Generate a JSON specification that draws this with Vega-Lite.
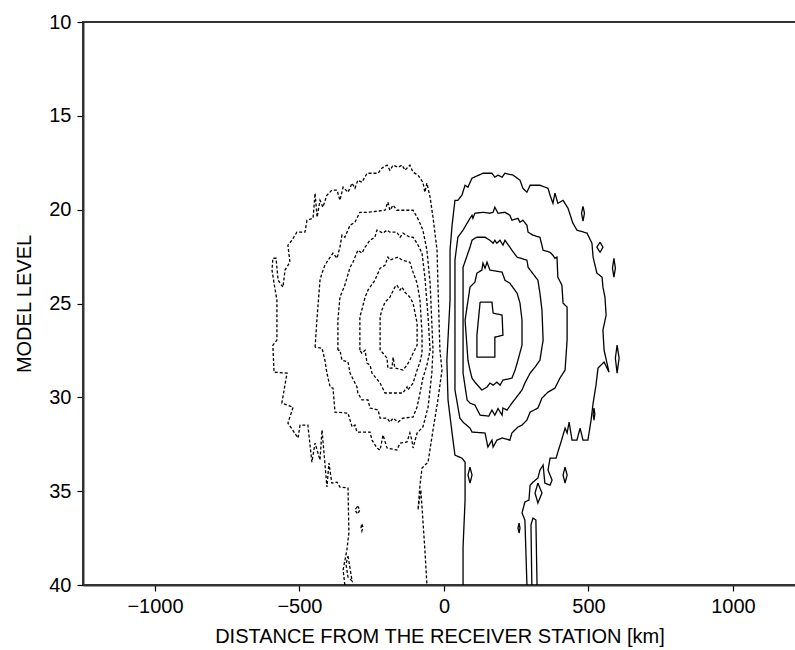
{
  "$schema": "https://vega.github.io/schema/vega-lite/v6.json",
  "autosize": "none",
  "width": 713,
  "height": 563,
  "padding": {"left": 83, "top": 22, "right": 0, "bottom": 65},
  "background": "white",
  "config": {
    "view": {"stroke": "#333333", "strokeWidth": 2},
    "axis": {
      "domainColor": "#333333", "domainWidth": 2,
      "tickColor": "#000000", "tickWidth": 1.2, "tickSize": 6,
      "labelFont": "Liberation Sans", "labelFontSize": 20, "labelColor": "#000000",
      "titleFont": "Liberation Sans", "titleFontSize": 20, "titleFontWeight": "normal", "titleColor": "#000000",
      "grid": false
    }
  },
  "data": {"values": [
{"c":"D1","s":"neg","x":-343,"y":40.00},{"c":"D1","s":"neg","x":-349,"y":39.20},{"c":"D1","s":"neg","x":-336,"y":38.14},{"c":"D1","s":"neg","x":-329,"y":37.23},{"c":"D1","s":"neg","x":-332,"y":34.83},{"c":"D1","s":"neg","x":-360,"y":34.78},{"c":"D1","s":"neg","x":-370,"y":34.52},{"c":"D1","s":"neg","x":-388,"y":34.57},{"c":"D1","s":"neg","x":-398,"y":33.50},{"c":"D1","s":"neg","x":-405,"y":34.78},{"c":"D1","s":"neg","x":-422,"y":31.74},{"c":"D1","s":"neg","x":-429,"y":33.34},{"c":"D1","s":"neg","x":-446,"y":32.44},{"c":"D1","s":"neg","x":-457,"y":33.45},{"c":"D1","s":"neg","x":-471,"y":31.48},{"c":"D1","s":"neg","x":-498,"y":31.48},{"c":"D1","s":"neg","x":-505,"y":32.17},{"c":"D1","s":"neg","x":-540,"y":31.37},{"c":"D1","s":"neg","x":-522,"y":30.52},{"c":"D1","s":"neg","x":-561,"y":30.31},{"c":"D1","s":"neg","x":-543,"y":28.71},{"c":"D1","s":"neg","x":-588,"y":28.66},{"c":"D1","s":"neg","x":-592,"y":27.22},{"c":"D1","s":"neg","x":-578,"y":26.95},{"c":"D1","s":"neg","x":-578,"y":24.82},{"c":"D1","s":"neg","x":-588,"y":23.92},{"c":"D1","s":"neg","x":-595,"y":23.22},{"c":"D1","s":"neg","x":-592,"y":22.59},{"c":"D1","s":"neg","x":-581,"y":22.59},{"c":"D1","s":"neg","x":-574,"y":23.76},{"c":"D1","s":"neg","x":-557,"y":24.13},{"c":"D1","s":"neg","x":-550,"y":23.22},{"c":"D1","s":"neg","x":-533,"y":22.80},{"c":"D1","s":"neg","x":-540,"y":21.89},{"c":"D1","s":"neg","x":-526,"y":21.63},{"c":"D1","s":"neg","x":-509,"y":21.20},{"c":"D1","s":"neg","x":-481,"y":21.20},{"c":"D1","s":"neg","x":-474,"y":20.56},{"c":"D1","s":"neg","x":-453,"y":20.46},{"c":"D1","s":"neg","x":-446,"y":19.12},{"c":"D1","s":"neg","x":-439,"y":20.40},{"c":"D1","s":"neg","x":-429,"y":19.50},{"c":"D1","s":"neg","x":-419,"y":19.87},{"c":"D1","s":"neg","x":-405,"y":19.23},{"c":"D1","s":"neg","x":-388,"y":18.96},{"c":"D1","s":"neg","x":-370,"y":18.96},{"c":"D1","s":"neg","x":-360,"y":19.50},{"c":"D1","s":"neg","x":-349,"y":18.80},{"c":"D1","s":"neg","x":-332,"y":19.07},{"c":"D1","s":"neg","x":-318,"y":18.59},{"c":"D1","s":"neg","x":-308,"y":18.86},{"c":"D1","s":"neg","x":-298,"y":18.43},{"c":"D1","s":"neg","x":-284,"y":18.54},{"c":"D1","s":"neg","x":-266,"y":18.06},{"c":"D1","s":"neg","x":-228,"y":18.06},{"c":"D1","s":"neg","x":-215,"y":17.79},{"c":"D1","s":"neg","x":-197,"y":17.63},{"c":"D1","s":"neg","x":-187,"y":17.90},{"c":"D1","s":"neg","x":-176,"y":17.63},{"c":"D1","s":"neg","x":-159,"y":17.74},{"c":"D1","s":"neg","x":-145,"y":17.63},{"c":"D1","s":"neg","x":-135,"y":17.90},{"c":"D1","s":"neg","x":-118,"y":17.63},{"c":"D1","s":"neg","x":-107,"y":18.00},{"c":"D1","s":"neg","x":-90,"y":18.16},{"c":"D1","s":"neg","x":-73,"y":18.54},{"c":"D1","s":"neg","x":-66,"y":19.07},{"c":"D1","s":"neg","x":-59,"y":18.59},{"c":"D1","s":"neg","x":-48,"y":19.34},{"c":"D1","s":"neg","x":-38,"y":20.40},{"c":"D1","s":"neg","x":-24,"y":22.16},{"c":"D1","s":"neg","x":-21,"y":23.92},{"c":"D1","s":"neg","x":-14,"y":27.49},{"c":"D1","s":"neg","x":-7,"y":28.55},{"c":"D1","s":"neg","x":-21,"y":30.14},{"c":"D1","s":"neg","x":-38,"y":31.74},{"c":"D1","s":"neg","x":-55,"y":33.45},{"c":"D1","s":"neg","x":-76,"y":33.77},{"c":"D1","s":"neg","x":-83,"y":34.68},{"c":"D1","s":"neg","x":-90,"y":36.00},{"c":"D1","s":"neg","x":-80,"y":34.94},{"c":"D1","s":"neg","x":-73,"y":36.54},{"c":"D1","s":"neg","x":-66,"y":38.14},{"c":"D1","s":"neg","x":-59,"y":40.00},
{"c":"D2","s":"neg","x":-446,"y":27.33},{"c":"D2","s":"neg","x":-439,"y":25.72},{"c":"D2","s":"neg","x":-429,"y":23.76},{"c":"D2","s":"neg","x":-422,"y":23.38},{"c":"D2","s":"neg","x":-412,"y":22.96},{"c":"D2","s":"neg","x":-401,"y":22.69},{"c":"D2","s":"neg","x":-384,"y":22.32},{"c":"D2","s":"neg","x":-370,"y":22.59},{"c":"D2","s":"neg","x":-360,"y":22.00},{"c":"D2","s":"neg","x":-353,"y":21.36},{"c":"D2","s":"neg","x":-343,"y":21.47},{"c":"D2","s":"neg","x":-325,"y":20.83},{"c":"D2","s":"neg","x":-308,"y":20.67},{"c":"D2","s":"neg","x":-291,"y":20.14},{"c":"D2","s":"neg","x":-263,"y":20.14},{"c":"D2","s":"neg","x":-204,"y":20.03},{"c":"D2","s":"neg","x":-194,"y":19.60},{"c":"D2","s":"neg","x":-187,"y":20.03},{"c":"D2","s":"neg","x":-176,"y":19.76},{"c":"D2","s":"neg","x":-163,"y":20.03},{"c":"D2","s":"neg","x":-107,"y":20.03},{"c":"D2","s":"neg","x":-93,"y":20.40},{"c":"D2","s":"neg","x":-83,"y":20.72},{"c":"D2","s":"neg","x":-73,"y":21.09},{"c":"D2","s":"neg","x":-59,"y":22.16},{"c":"D2","s":"neg","x":-48,"y":23.92},{"c":"D2","s":"neg","x":-38,"y":27.49},{"c":"D2","s":"neg","x":-42,"y":28.71},{"c":"D2","s":"neg","x":-55,"y":30.52},{"c":"D2","s":"neg","x":-73,"y":31.58},{"c":"D2","s":"neg","x":-93,"y":31.90},{"c":"D2","s":"neg","x":-107,"y":32.70},{"c":"D2","s":"neg","x":-111,"y":32.28},{"c":"D2","s":"neg","x":-118,"y":31.90},{"c":"D2","s":"neg","x":-128,"y":32.38},{"c":"D2","s":"neg","x":-152,"y":32.44},{"c":"D2","s":"neg","x":-163,"y":32.81},{"c":"D2","s":"neg","x":-197,"y":32.70},{"c":"D2","s":"neg","x":-211,"y":32.01},{"c":"D2","s":"neg","x":-221,"y":32.81},{"c":"D2","s":"neg","x":-232,"y":32.70},{"c":"D2","s":"neg","x":-249,"y":32.28},{"c":"D2","s":"neg","x":-256,"y":31.85},{"c":"D2","s":"neg","x":-301,"y":31.85},{"c":"D2","s":"neg","x":-308,"y":31.48},{"c":"D2","s":"neg","x":-318,"y":31.58},{"c":"D2","s":"neg","x":-332,"y":30.84},{"c":"D2","s":"neg","x":-377,"y":30.79},{"c":"D2","s":"neg","x":-384,"y":29.51},{"c":"D2","s":"neg","x":-394,"y":29.45},{"c":"D2","s":"neg","x":-405,"y":28.71},{"c":"D2","s":"neg","x":-412,"y":28.02},{"c":"D2","s":"neg","x":-422,"y":27.38},{"c":"D2","s":"neg","x":-446,"y":27.33},
{"c":"D3","s":"neg","x":-367,"y":27.49},{"c":"D3","s":"neg","x":-367,"y":25.89},{"c":"D3","s":"neg","x":-360,"y":24.66},{"c":"D3","s":"neg","x":-343,"y":24.02},{"c":"D3","s":"neg","x":-325,"y":23.07},{"c":"D3","s":"neg","x":-315,"y":22.80},{"c":"D3","s":"neg","x":-298,"y":22.16},{"c":"D3","s":"neg","x":-284,"y":22.32},{"c":"D3","s":"neg","x":-273,"y":22.00},{"c":"D3","s":"neg","x":-256,"y":21.63},{"c":"D3","s":"neg","x":-239,"y":21.47},{"c":"D3","s":"neg","x":-232,"y":21.09},{"c":"D3","s":"neg","x":-211,"y":21.25},{"c":"D3","s":"neg","x":-197,"y":21.09},{"c":"D3","s":"neg","x":-187,"y":21.20},{"c":"D3","s":"neg","x":-163,"y":21.20},{"c":"D3","s":"neg","x":-152,"y":21.47},{"c":"D3","s":"neg","x":-142,"y":21.25},{"c":"D3","s":"neg","x":-118,"y":21.47},{"c":"D3","s":"neg","x":-107,"y":21.47},{"c":"D3","s":"neg","x":-93,"y":21.79},{"c":"D3","s":"neg","x":-76,"y":22.32},{"c":"D3","s":"neg","x":-66,"y":23.60},{"c":"D3","s":"neg","x":-55,"y":25.72},{"c":"D3","s":"neg","x":-48,"y":27.49},{"c":"D3","s":"neg","x":-59,"y":28.28},{"c":"D3","s":"neg","x":-73,"y":28.98},{"c":"D3","s":"neg","x":-83,"y":29.77},{"c":"D3","s":"neg","x":-93,"y":30.52},{"c":"D3","s":"neg","x":-107,"y":31.05},{"c":"D3","s":"neg","x":-142,"y":31.11},{"c":"D3","s":"neg","x":-159,"y":31.32},{"c":"D3","s":"neg","x":-176,"y":31.11},{"c":"D3","s":"neg","x":-187,"y":31.32},{"c":"D3","s":"neg","x":-197,"y":31.11},{"c":"D3","s":"neg","x":-221,"y":31.11},{"c":"D3","s":"neg","x":-228,"y":30.68},{"c":"D3","s":"neg","x":-256,"y":30.57},{"c":"D3","s":"neg","x":-263,"y":30.14},{"c":"D3","s":"neg","x":-284,"y":30.14},{"c":"D3","s":"neg","x":-298,"y":29.77},{"c":"D3","s":"neg","x":-301,"y":29.45},{"c":"D3","s":"neg","x":-325,"y":28.71},{"c":"D3","s":"neg","x":-332,"y":28.12},{"c":"D3","s":"neg","x":-353,"y":28.02},{"c":"D3","s":"neg","x":-360,"y":27.49},{"c":"D3","s":"neg","x":-367,"y":27.49},
{"c":"D4","s":"neg","x":-291,"y":27.49},{"c":"D4","s":"neg","x":-291,"y":25.72},{"c":"D4","s":"neg","x":-280,"y":25.09},{"c":"D4","s":"neg","x":-273,"y":24.66},{"c":"D4","s":"neg","x":-263,"y":24.29},{"c":"D4","s":"neg","x":-256,"y":24.13},{"c":"D4","s":"neg","x":-239,"y":23.76},{"c":"D4","s":"neg","x":-221,"y":23.12},{"c":"D4","s":"neg","x":-204,"y":22.96},{"c":"D4","s":"neg","x":-194,"y":22.53},{"c":"D4","s":"neg","x":-187,"y":22.69},{"c":"D4","s":"neg","x":-170,"y":22.59},{"c":"D4","s":"neg","x":-159,"y":22.53},{"c":"D4","s":"neg","x":-145,"y":22.69},{"c":"D4","s":"neg","x":-118,"y":22.80},{"c":"D4","s":"neg","x":-107,"y":23.33},{"c":"D4","s":"neg","x":-93,"y":23.92},{"c":"D4","s":"neg","x":-83,"y":24.82},{"c":"D4","s":"neg","x":-76,"y":26.58},{"c":"D4","s":"neg","x":-76,"y":27.65},{"c":"D4","s":"neg","x":-83,"y":28.12},{"c":"D4","s":"neg","x":-93,"y":28.55},{"c":"D4","s":"neg","x":-107,"y":29.24},{"c":"D4","s":"neg","x":-125,"y":29.61},{"c":"D4","s":"neg","x":-128,"y":29.45},{"c":"D4","s":"neg","x":-142,"y":29.77},{"c":"D4","s":"neg","x":-204,"y":29.77},{"c":"D4","s":"neg","x":-221,"y":29.24},{"c":"D4","s":"neg","x":-249,"y":28.71},{"c":"D4","s":"neg","x":-256,"y":28.28},{"c":"D4","s":"neg","x":-266,"y":28.18},{"c":"D4","s":"neg","x":-273,"y":27.49},{"c":"D4","s":"neg","x":-284,"y":27.65},{"c":"D4","s":"neg","x":-291,"y":27.49},
{"c":"D5","s":"neg","x":-221,"y":27.49},{"c":"D5","s":"neg","x":-221,"y":25.72},{"c":"D5","s":"neg","x":-215,"y":25.35},{"c":"D5","s":"neg","x":-204,"y":24.93},{"c":"D5","s":"neg","x":-187,"y":24.66},{"c":"D5","s":"neg","x":-170,"y":24.13},{"c":"D5","s":"neg","x":-163,"y":24.02},{"c":"D5","s":"neg","x":-152,"y":24.29},{"c":"D5","s":"neg","x":-145,"y":24.13},{"c":"D5","s":"neg","x":-135,"y":24.40},{"c":"D5","s":"neg","x":-118,"y":24.66},{"c":"D5","s":"neg","x":-107,"y":24.98},{"c":"D5","s":"neg","x":-93,"y":26.05},{"c":"D5","s":"neg","x":-93,"y":27.22},{"c":"D5","s":"neg","x":-107,"y":27.65},{"c":"D5","s":"neg","x":-118,"y":28.02},{"c":"D5","s":"neg","x":-128,"y":28.28},{"c":"D5","s":"neg","x":-142,"y":28.55},{"c":"D5","s":"neg","x":-170,"y":28.44},{"c":"D5","s":"neg","x":-176,"y":27.86},{"c":"D5","s":"neg","x":-180,"y":28.44},{"c":"D5","s":"neg","x":-194,"y":28.44},{"c":"D5","s":"neg","x":-197,"y":27.91},{"c":"D5","s":"neg","x":-211,"y":27.65},{"c":"D5","s":"neg","x":-221,"y":27.49},
{"c":"D6","s":"neg","x":-332,"y":38.46},{"c":"D6","s":"neg","x":-318,"y":39.78},{"c":"D6","s":"neg","x":-332,"y":39.58},{"c":"D6","s":"neg","x":-339,"y":38.90},{"c":"D6","s":"neg","x":-332,"y":38.46},
{"c":"D7","s":"neg","x":-299,"y":35.79},{"c":"D7","s":"neg","x":-291,"y":36.00},{"c":"D7","s":"neg","x":-299,"y":36.22},{"c":"D7","s":"neg","x":-308,"y":36.00},{"c":"D7","s":"neg","x":-299,"y":35.79},
{"c":"D8","s":"neg","x":-284,"y":36.76},{"c":"D8","s":"neg","x":-280,"y":36.92},{"c":"D8","s":"neg","x":-284,"y":37.12},{"c":"D8","s":"neg","x":-287,"y":36.92},{"c":"D8","s":"neg","x":-284,"y":36.76},
{"c":"P1","s":"pos","x":66,"y":40.00},{"c":"P1","s":"pos","x":66,"y":37.98},{"c":"P1","s":"pos","x":73,"y":35.47},{"c":"P1","s":"pos","x":73,"y":33.45},{"c":"P1","s":"pos","x":62,"y":33.24},{"c":"P1","s":"pos","x":38,"y":33.08},{"c":"P1","s":"pos","x":28,"y":31.90},{"c":"P1","s":"pos","x":14,"y":30.14},{"c":"P1","s":"pos","x":10,"y":28.02},{"c":"P1","s":"pos","x":21,"y":24.82},{"c":"P1","s":"pos","x":21,"y":22.16},{"c":"P1","s":"pos","x":28,"y":20.83},{"c":"P1","s":"pos","x":38,"y":19.50},{"c":"P1","s":"pos","x":48,"y":19.50},{"c":"P1","s":"pos","x":62,"y":19.23},{"c":"P1","s":"pos","x":73,"y":18.70},{"c":"P1","s":"pos","x":83,"y":18.80},{"c":"P1","s":"pos","x":97,"y":18.32},{"c":"P1","s":"pos","x":135,"y":18.06},{"c":"P1","s":"pos","x":166,"y":18.06},{"c":"P1","s":"pos","x":176,"y":18.27},{"c":"P1","s":"pos","x":187,"y":18.16},{"c":"P1","s":"pos","x":201,"y":18.27},{"c":"P1","s":"pos","x":211,"y":18.06},{"c":"P1","s":"pos","x":239,"y":18.16},{"c":"P1","s":"pos","x":263,"y":18.43},{"c":"P1","s":"pos","x":273,"y":18.86},{"c":"P1","s":"pos","x":287,"y":19.07},{"c":"P1","s":"pos","x":298,"y":18.70},{"c":"P1","s":"pos","x":332,"y":18.70},{"c":"P1","s":"pos","x":360,"y":18.86},{"c":"P1","s":"pos","x":367,"y":19.23},{"c":"P1","s":"pos","x":377,"y":19.66},{"c":"P1","s":"pos","x":384,"y":19.12},{"c":"P1","s":"pos","x":394,"y":19.66},{"c":"P1","s":"pos","x":412,"y":19.50},{"c":"P1","s":"pos","x":429,"y":19.92},{"c":"P1","s":"pos","x":446,"y":20.72},{"c":"P1","s":"pos","x":460,"y":21.09},{"c":"P1","s":"pos","x":495,"y":21.25},{"c":"P1","s":"pos","x":512,"y":21.79},{"c":"P1","s":"pos","x":516,"y":22.53},{"c":"P1","s":"pos","x":529,"y":23.38},{"c":"P1","s":"pos","x":547,"y":23.60},{"c":"P1","s":"pos","x":550,"y":24.13},{"c":"P1","s":"pos","x":557,"y":24.66},{"c":"P1","s":"pos","x":561,"y":25.62},{"c":"P1","s":"pos","x":550,"y":26.42},{"c":"P1","s":"pos","x":554,"y":27.49},{"c":"P1","s":"pos","x":571,"y":28.66},{"c":"P1","s":"pos","x":554,"y":28.12},{"c":"P1","s":"pos","x":533,"y":28.44},{"c":"P1","s":"pos","x":526,"y":29.35},{"c":"P1","s":"pos","x":516,"y":30.31},{"c":"P1","s":"pos","x":509,"y":31.21},{"c":"P1","s":"pos","x":498,"y":32.28},{"c":"P1","s":"pos","x":481,"y":32.28},{"c":"P1","s":"pos","x":471,"y":31.64},{"c":"P1","s":"pos","x":460,"y":32.28},{"c":"P1","s":"pos","x":443,"y":32.28},{"c":"P1","s":"pos","x":433,"y":31.32},{"c":"P1","s":"pos","x":426,"y":31.90},{"c":"P1","s":"pos","x":419,"y":31.64},{"c":"P1","s":"pos","x":405,"y":32.38},{"c":"P1","s":"pos","x":394,"y":32.92},{"c":"P1","s":"pos","x":388,"y":33.24},{"c":"P1","s":"pos","x":367,"y":33.24},{"c":"P1","s":"pos","x":360,"y":33.88},{"c":"P1","s":"pos","x":374,"y":34.41},{"c":"P1","s":"pos","x":367,"y":34.68},{"c":"P1","s":"pos","x":349,"y":34.57},{"c":"P1","s":"pos","x":343,"y":33.61},{"c":"P1","s":"pos","x":332,"y":33.88},{"c":"P1","s":"pos","x":325,"y":34.30},{"c":"P1","s":"pos","x":308,"y":34.52},{"c":"P1","s":"pos","x":298,"y":34.68},{"c":"P1","s":"pos","x":294,"y":35.47},{"c":"P1","s":"pos","x":280,"y":35.58},{"c":"P1","s":"pos","x":270,"y":36.16},{"c":"P1","s":"pos","x":280,"y":36.54},{"c":"P1","s":"pos","x":287,"y":40.00},
{"c":"P2","s":"pos","x":38,"y":28.02},{"c":"P2","s":"pos","x":38,"y":22.69},{"c":"P2","s":"pos","x":48,"y":21.47},{"c":"P2","s":"pos","x":66,"y":21.09},{"c":"P2","s":"pos","x":90,"y":20.46},{"c":"P2","s":"pos","x":97,"y":20.30},{"c":"P2","s":"pos","x":100,"y":20.46},{"c":"P2","s":"pos","x":107,"y":20.19},{"c":"P2","s":"pos","x":135,"y":20.14},{"c":"P2","s":"pos","x":159,"y":20.19},{"c":"P2","s":"pos","x":170,"y":20.14},{"c":"P2","s":"pos","x":176,"y":19.87},{"c":"P2","s":"pos","x":187,"y":20.19},{"c":"P2","s":"pos","x":211,"y":20.14},{"c":"P2","s":"pos","x":228,"y":20.30},{"c":"P2","s":"pos","x":235,"y":20.56},{"c":"P2","s":"pos","x":256,"y":20.46},{"c":"P2","s":"pos","x":263,"y":20.67},{"c":"P2","s":"pos","x":273,"y":20.56},{"c":"P2","s":"pos","x":287,"y":20.83},{"c":"P2","s":"pos","x":291,"y":21.20},{"c":"P2","s":"pos","x":308,"y":21.36},{"c":"P2","s":"pos","x":332,"y":21.47},{"c":"P2","s":"pos","x":343,"y":22.16},{"c":"P2","s":"pos","x":367,"y":22.27},{"c":"P2","s":"pos","x":377,"y":22.43},{"c":"P2","s":"pos","x":384,"y":22.59},{"c":"P2","s":"pos","x":391,"y":22.53},{"c":"P2","s":"pos","x":394,"y":23.60},{"c":"P2","s":"pos","x":408,"y":24.02},{"c":"P2","s":"pos","x":412,"y":24.98},{"c":"P2","s":"pos","x":426,"y":25.19},{"c":"P2","s":"pos","x":426,"y":26.95},{"c":"P2","s":"pos","x":419,"y":28.55},{"c":"P2","s":"pos","x":401,"y":28.98},{"c":"P2","s":"pos","x":384,"y":29.51},{"c":"P2","s":"pos","x":360,"y":29.72},{"c":"P2","s":"pos","x":339,"y":30.04},{"c":"P2","s":"pos","x":325,"y":30.57},{"c":"P2","s":"pos","x":298,"y":30.79},{"c":"P2","s":"pos","x":287,"y":31.21},{"c":"P2","s":"pos","x":270,"y":31.48},{"c":"P2","s":"pos","x":256,"y":31.58},{"c":"P2","s":"pos","x":235,"y":31.90},{"c":"P2","s":"pos","x":228,"y":32.28},{"c":"P2","s":"pos","x":201,"y":32.17},{"c":"P2","s":"pos","x":183,"y":32.28},{"c":"P2","s":"pos","x":170,"y":32.65},{"c":"P2","s":"pos","x":166,"y":32.28},{"c":"P2","s":"pos","x":152,"y":32.65},{"c":"P2","s":"pos","x":142,"y":31.90},{"c":"P2","s":"pos","x":97,"y":31.85},{"c":"P2","s":"pos","x":90,"y":31.64},{"c":"P2","s":"pos","x":66,"y":31.32},{"c":"P2","s":"pos","x":55,"y":31.11},{"c":"P2","s":"pos","x":38,"y":29.61},{"c":"P2","s":"pos","x":38,"y":28.02},
{"c":"P3","s":"pos","x":66,"y":28.02},{"c":"P3","s":"pos","x":66,"y":23.07},{"c":"P3","s":"pos","x":90,"y":22.00},{"c":"P3","s":"pos","x":97,"y":21.63},{"c":"P3","s":"pos","x":107,"y":21.52},{"c":"P3","s":"pos","x":114,"y":21.47},{"c":"P3","s":"pos","x":142,"y":21.47},{"c":"P3","s":"pos","x":159,"y":21.63},{"c":"P3","s":"pos","x":170,"y":21.79},{"c":"P3","s":"pos","x":176,"y":21.63},{"c":"P3","s":"pos","x":183,"y":21.79},{"c":"P3","s":"pos","x":194,"y":21.63},{"c":"P3","s":"pos","x":204,"y":21.89},{"c":"P3","s":"pos","x":211,"y":21.63},{"c":"P3","s":"pos","x":228,"y":22.00},{"c":"P3","s":"pos","x":235,"y":22.16},{"c":"P3","s":"pos","x":253,"y":22.53},{"c":"P3","s":"pos","x":287,"y":22.69},{"c":"P3","s":"pos","x":291,"y":23.07},{"c":"P3","s":"pos","x":325,"y":23.76},{"c":"P3","s":"pos","x":332,"y":24.45},{"c":"P3","s":"pos","x":339,"y":25.35},{"c":"P3","s":"pos","x":343,"y":26.95},{"c":"P3","s":"pos","x":332,"y":28.02},{"c":"P3","s":"pos","x":315,"y":28.39},{"c":"P3","s":"pos","x":298,"y":28.71},{"c":"P3","s":"pos","x":280,"y":29.24},{"c":"P3","s":"pos","x":270,"y":29.61},{"c":"P3","s":"pos","x":235,"y":30.31},{"c":"P3","s":"pos","x":218,"y":30.68},{"c":"P3","s":"pos","x":204,"y":30.57},{"c":"P3","s":"pos","x":201,"y":30.95},{"c":"P3","s":"pos","x":187,"y":30.60},{"c":"P3","s":"pos","x":176,"y":30.95},{"c":"P3","s":"pos","x":166,"y":30.68},{"c":"P3","s":"pos","x":155,"y":31.00},{"c":"P3","s":"pos","x":125,"y":30.95},{"c":"P3","s":"pos","x":107,"y":30.41},{"c":"P3","s":"pos","x":90,"y":30.31},{"c":"P3","s":"pos","x":80,"y":30.14},{"c":"P3","s":"pos","x":66,"y":28.71},{"c":"P3","s":"pos","x":66,"y":28.02},
{"c":"P4","s":"pos","x":83,"y":28.02},{"c":"P4","s":"pos","x":73,"y":25.89},{"c":"P4","s":"pos","x":90,"y":24.13},{"c":"P4","s":"pos","x":107,"y":23.86},{"c":"P4","s":"pos","x":114,"y":23.38},{"c":"P4","s":"pos","x":131,"y":23.22},{"c":"P4","s":"pos","x":135,"y":22.85},{"c":"P4","s":"pos","x":142,"y":23.12},{"c":"P4","s":"pos","x":149,"y":22.80},{"c":"P4","s":"pos","x":159,"y":23.22},{"c":"P4","s":"pos","x":201,"y":23.33},{"c":"P4","s":"pos","x":211,"y":23.76},{"c":"P4","s":"pos","x":228,"y":23.92},{"c":"P4","s":"pos","x":253,"y":24.45},{"c":"P4","s":"pos","x":263,"y":24.98},{"c":"P4","s":"pos","x":270,"y":25.89},{"c":"P4","s":"pos","x":270,"y":27.22},{"c":"P4","s":"pos","x":256,"y":28.02},{"c":"P4","s":"pos","x":246,"y":28.55},{"c":"P4","s":"pos","x":235,"y":28.98},{"c":"P4","s":"pos","x":204,"y":29.08},{"c":"P4","s":"pos","x":194,"y":29.35},{"c":"P4","s":"pos","x":183,"y":29.19},{"c":"P4","s":"pos","x":170,"y":29.35},{"c":"P4","s":"pos","x":159,"y":29.24},{"c":"P4","s":"pos","x":149,"y":29.45},{"c":"P4","s":"pos","x":131,"y":29.61},{"c":"P4","s":"pos","x":107,"y":29.19},{"c":"P4","s":"pos","x":97,"y":28.98},{"c":"P4","s":"pos","x":90,"y":28.55},{"c":"P4","s":"pos","x":83,"y":28.02},
{"c":"P5","s":"pos","x":125,"y":24.93},{"c":"P5","s":"pos","x":166,"y":24.93},{"c":"P5","s":"pos","x":170,"y":25.51},{"c":"P5","s":"pos","x":201,"y":25.62},{"c":"P5","s":"pos","x":204,"y":26.69},{"c":"P5","s":"pos","x":176,"y":26.79},{"c":"P5","s":"pos","x":176,"y":27.86},{"c":"P5","s":"pos","x":114,"y":27.86},{"c":"P5","s":"pos","x":114,"y":26.69},{"c":"P5","s":"pos","x":125,"y":24.93},
{"c":"P6","s":"pos","x":304,"y":40.00},{"c":"P6","s":"pos","x":301,"y":36.80},{"c":"P6","s":"pos","x":308,"y":36.43},{"c":"P6","s":"pos","x":318,"y":36.54},{"c":"P6","s":"pos","x":322,"y":40.00},
{"c":"S1","s":"pos","x":481,"y":19.82},{"c":"S1","s":"pos","x":486,"y":20.19},{"c":"S1","s":"pos","x":481,"y":20.61},{"c":"S1","s":"pos","x":476,"y":20.19},{"c":"S1","s":"pos","x":481,"y":19.82},
{"c":"S2","s":"pos","x":540,"y":21.73},{"c":"S2","s":"pos","x":550,"y":22.00},{"c":"S2","s":"pos","x":540,"y":22.27},{"c":"S2","s":"pos","x":529,"y":22.00},{"c":"S2","s":"pos","x":540,"y":21.73},
{"c":"S3","s":"pos","x":588,"y":22.59},{"c":"S3","s":"pos","x":593,"y":23.12},{"c":"S3","s":"pos","x":588,"y":23.60},{"c":"S3","s":"pos","x":583,"y":23.12},{"c":"S3","s":"pos","x":588,"y":22.59},
{"c":"S4","s":"pos","x":599,"y":27.22},{"c":"S4","s":"pos","x":606,"y":27.91},{"c":"S4","s":"pos","x":599,"y":28.71},{"c":"S4","s":"pos","x":593,"y":27.91},{"c":"S4","s":"pos","x":599,"y":27.22},
{"c":"S5","s":"pos","x":90,"y":33.72},{"c":"S5","s":"pos","x":97,"y":34.14},{"c":"S5","s":"pos","x":90,"y":34.57},{"c":"S5","s":"pos","x":83,"y":34.14},{"c":"S5","s":"pos","x":90,"y":33.72},
{"c":"S6","s":"pos","x":419,"y":33.72},{"c":"S6","s":"pos","x":426,"y":34.14},{"c":"S6","s":"pos","x":419,"y":34.57},{"c":"S6","s":"pos","x":412,"y":34.14},{"c":"S6","s":"pos","x":419,"y":33.72},
{"c":"S7","s":"pos","x":325,"y":34.57},{"c":"S7","s":"pos","x":339,"y":35.10},{"c":"S7","s":"pos","x":325,"y":35.63},{"c":"S7","s":"pos","x":315,"y":35.10},{"c":"S7","s":"pos","x":325,"y":34.57},
{"c":"S8","s":"pos","x":260,"y":36.70},{"c":"S8","s":"pos","x":263,"y":36.97},{"c":"S8","s":"pos","x":260,"y":37.23},{"c":"S8","s":"pos","x":256,"y":36.97},{"c":"S8","s":"pos","x":260,"y":36.70},
{"c":"S9","s":"pos","x":519,"y":30.57},{"c":"S9","s":"pos","x":522,"y":30.89},{"c":"S9","s":"pos","x":519,"y":31.21},{"c":"S9","s":"pos","x":516,"y":30.89},{"c":"S9","s":"pos","x":519,"y":30.57}
  ]},
  "mark": {"type": "line", "color": "#000000", "strokeWidth": 1.3, "clip": true, "strokeCap": "butt", "strokeJoin": "miter"},
  "encoding": {
    "x": {"field": "x", "type": "quantitative",
      "scale": {"domain": [-1249, 1218], "nice": false, "zero": false},
      "axis": {"values": [-1000, -500, 0, 500, 1000], "format": "d", "title": "DISTANCE FROM THE RECEIVER STATION [km]", "labelPadding": 5, "titlePadding": 10}},
    "y": {"field": "y", "type": "quantitative",
      "scale": {"domain": [10, 40], "reverse": true, "nice": false, "zero": false},
      "axis": {"values": [10, 15, 20, 25, 30, 35, 40], "format": "d", "title": "MODEL LEVEL", "labelPadding": 6, "titlePadding": 14}},
    "detail": {"field": "c"},
    "strokeDash": {"field": "s", "type": "nominal", "scale": {"domain": ["neg", "pos"], "range": [[3, 2], [1, 0]]}, "legend": null},
    "order": {"value": null}
  }
}
